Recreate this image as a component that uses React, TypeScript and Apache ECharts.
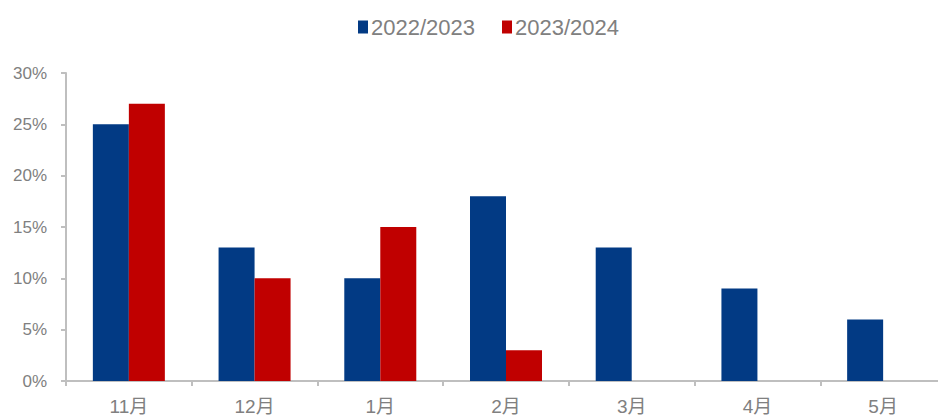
import React, { useEffect, useRef } from "react";
import * as echarts from "echarts";

const categories = ["11月", "12月", "1月", "2月", "3月", "4月", "5月"];
const series2022 = [25, 13, 10, 18, 13, 9, 6];
const series2023 = [27, 10, 15, 3, null, null, null];
const yTicks = [0, 5, 10, 15, 20, 25, 30];

const FONT = '"Liberation Sans", Arial, "Noto Sans CJK SC", sans-serif';

export default function App() {
  const ref = useRef<HTMLDivElement>(null);
  useEffect(() => {
    if (!ref.current) return;
    const chart = echarts.init(ref.current, undefined, { renderer: "svg" });
    chart.setOption({
      animation: false,
      textStyle: { fontFamily: FONT },
      legend: {
        left: 353,
        top: 11,
        itemWidth: 10,
        itemHeight: 13,
        itemGap: 27,
        icon: "rect",
        textStyle: { fontSize: 22, color: "#808080", fontFamily: FONT, padding: [0, 0, 0, -2] },
        data: ["2022/2023", "2023/2024"],
      },
      grid: { left: 66, right: 4, top: 73, bottom: 38, containLabel: false },
      xAxis: {
        type: "category",
        data: categories,
        axisLine: { lineStyle: { color: "#BFBFBF", width: 2 } },
        axisTick: { show: true, length: 5, lineStyle: { color: "#BFBFBF", width: 2 } },
        axisLabel: { fontSize: 19, color: "#808080", margin: 16, fontFamily: FONT },
      },
      yAxis: {
        type: "value",
        min: yTicks[0],
        max: yTicks[yTicks.length - 1],
        interval: 5,
        splitLine: { show: false },
        axisLine: { show: true, lineStyle: { color: "#BFBFBF", width: 2 } },
        axisTick: { show: true, length: 5, lineStyle: { color: "#BFBFBF", width: 2 } },
        axisLabel: { fontSize: 17, color: "#808080", margin: 19, formatter: "{value}%", fontFamily: FONT },
      },
      series: [
        {
          name: "2022/2023",
          type: "bar",
          data: series2022,
          barWidth: 36,
          barGap: "0%",
          itemStyle: { color: "#023A84" },
        },
        {
          name: "2023/2024",
          type: "bar",
          data: series2023,
          barWidth: 36,
          barGap: "0%",
          itemStyle: { color: "#C00000" },
        },
      ],
    });
    return () => chart.dispose();
  }, []);
  return (
    <div style={{ position: "absolute", left: 0, top: 0, width: 938, height: 419, overflow: "hidden", background: "#fff" }}>
      <div ref={ref} style={{ width: 950, height: 419 }} />
    </div>
  );
}
